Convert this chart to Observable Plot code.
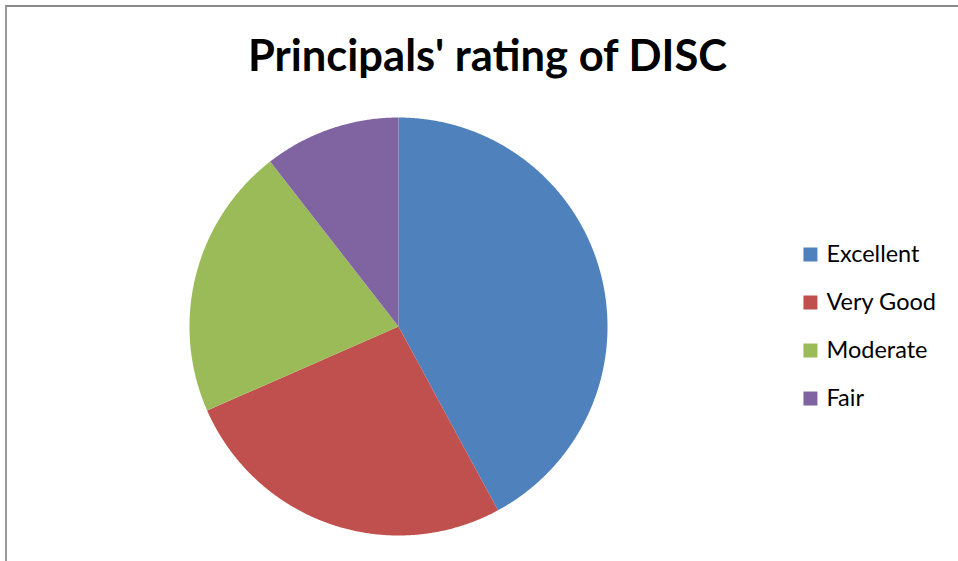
<!DOCTYPE html>
<html><head><meta charset="utf-8">
<script src="https://cdn.jsdelivr.net/npm/d3@7"></script>
<script src="https://cdn.jsdelivr.net/npm/@observablehq/plot@0.6"></script>
<style>
html,body{margin:0;padding:0;background:#fff;overflow:hidden}
#wrap{position:relative;width:958px;height:561px}
#border{position:absolute;left:5px;top:5px;right:-10px;bottom:-10px;border-left:2px solid #9a9a9a;border-top:2px solid #8a8a8a;pointer-events:none}
</style>
</head><body><div id="wrap"><div id="chart"></div><div id="border"></div></div>
<script>
const title = "Principals' rating of DISC";
const categories = ["Excellent", "Very Good", "Moderate", "Fair"];
const values = [8, 5, 4, 2];
const colors = ["#4F81BD", "#C0504D", "#9BBB59", "#8064A2"];

// slice outlines built from the data via d3.pie (unit circle, y up)
const arcs = d3.pie().sort(null)(values);
const pts = [];
arcs.forEach((a, i) => {
  const n = Math.max(2, Math.ceil((a.endAngle - a.startAngle) / 0.005));
  pts.push({cat: categories[i], x: 0, y: 0});
  for (let k = 0; k <= n; k++) {
    const t = a.startAngle + (a.endAngle - a.startAngle) * k / n;
    pts.push({cat: categories[i], x: Math.sin(t), y: Math.cos(t)});
  }
  pts.push({cat: categories[i], x: 0, y: 0});
});

const font = "Lato, 'Open Sans', sans-serif";
const legX = 1.971, legY0 = 0.3445, legStep = 0.2297;

const chart = Plot.plot({
  width: 958, height: 561,
  margin: 0,
  style: {background: "transparent", fontFamily: font},
  x: {domain: [-1, 1], range: [189, 607], axis: null},
  y: {domain: [-1, 1], range: [535, 117], axis: null},
  color: {domain: categories, range: colors},
  marks: [
    Plot.line(pts, {x: "x", y: "y", z: "cat", fill: "cat", stroke: "none", curve: "linear"}),
    Plot.dot(categories, {x: () => legX, y: (d, i) => legY0 - i * legStep, fill: d => d, symbol: "square", r: 7.9, stroke: "none"}),
    Plot.text(categories, {x: () => legX, y: (d, i) => legY0 - i * legStep, text: d => d, textAnchor: "start", dx: 16, fontSize: 23.5, fill: "#000", fontFamily: font}),
    Plot.text([title], {frameAnchor: "top", text: d => d, dx: 8, dy: 57, lineAnchor: "middle", fontSize: 43.5, fontWeight: "bold", fill: "#000", fontFamily: font})
  ]
});
document.getElementById("chart").appendChild(chart);
</script>
</body></html>
